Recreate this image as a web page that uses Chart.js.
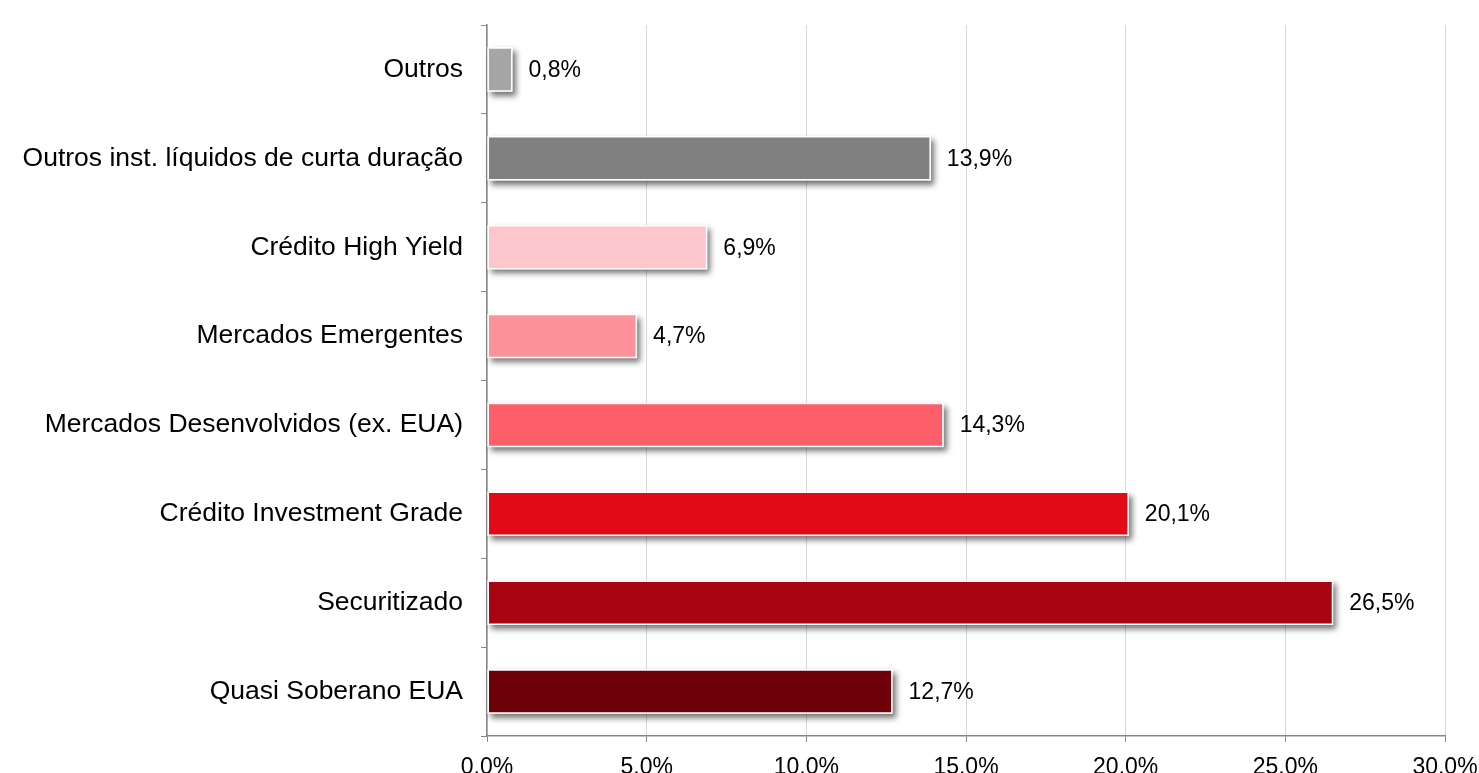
<!DOCTYPE html>
<html>
<head>
<meta charset="utf-8">
<script src="https://cdn.jsdelivr.net/npm/chart.js@4.4.1/dist/chart.umd.min.js"></script>
<style>
  html, body { margin: 0; padding: 0; background: #ffffff; }
  #wrap { width: 1479px; height: 773px; position: relative; }
</style>
</head>
<body>
<div id="wrap"><canvas id="c"></canvas></div>
<script>
const categories = [
  "Outros",
  "Outros inst. líquidos de curta duração",
  "Crédito High Yield",
  "Mercados Emergentes",
  "Mercados Desenvolvidos (ex. EUA)",
  "Crédito Investment Grade",
  "Securitizado",
  "Quasi Soberano EUA"
];
const values = [0.8, 13.9, 6.9, 4.7, 14.3, 20.1, 26.5, 12.7];
const barColors = ["#a6a6a6", "#808080", "#fdc6cc", "#fc939a", "#fc5f6a", "#e20a17", "#a80411", "#6d0009"];
const xTickValues = [0, 5, 10, 15, 20, 25, 30];

const FONT = "'Liberation Sans', Arial, sans-serif";

// Drop shadow drawn under each bar (Chart.js clips bars with borders, so draw it separately)
const shadowPlugin = {
  id: 'barShadow',
  beforeDatasetsDraw(chart) {
    const ctx = chart.ctx;
    const meta = chart.getDatasetMeta(0);
    ctx.save();
    ctx.shadowColor = 'rgba(0,0,0,0.55)';
    ctx.shadowBlur = 6;
    ctx.shadowOffsetX = 3;
    ctx.shadowOffsetY = 4;
    ctx.fillStyle = '#ffffff';
    meta.data.forEach((bar) => {
      const p = bar.getProps(['x', 'y', 'base', 'height'], true);
      const left = Math.min(p.base, p.x);
      const w = Math.abs(p.x - p.base);
      ctx.fillRect(left, p.y - p.height / 2, w, p.height);
    });
    ctx.restore();
  }
};

const valueLabels = {
  id: 'valueLabels',
  afterDatasetsDraw(chart) {
    const ctx = chart.ctx;
    const meta = chart.getDatasetMeta(0);
    ctx.save();
    ctx.font = "23px " + FONT;
    ctx.fillStyle = "#000000";
    ctx.textAlign = "left";
    ctx.textBaseline = "middle";
    meta.data.forEach((bar, i) => {
      const txt = values[i].toFixed(1).replace('.', ',') + '%';
      ctx.fillText(txt, bar.x + 16, bar.y + 1);
    });
    ctx.restore();
  }
};

new Chart(document.getElementById('c'), {
  type: 'bar',
  data: {
    labels: categories,
    datasets: [{
      data: values,
      backgroundColor: barColors,
      borderColor: '#ffffff',
      borderWidth: 1.5,
      borderSkipped: false,
      categoryPercentage: 1.0,
      barPercentage: 0.5
    }]
  },
  options: {
    indexAxis: 'y',
    responsive: true,
    maintainAspectRatio: false,
    animation: false,
    devicePixelRatio: 1,
    layout: { padding: { top: 25, right: 0, left: 0, bottom: 0 } },
    plugins: {
      legend: { display: false },
      tooltip: { enabled: false }
    },
    scales: {
      x: {
        type: 'linear',
        min: 0,
        max: 30,
        afterBuildTicks(axis) {
          axis.ticks = xTickValues.map(v => ({ value: v }));
        },
        afterFit(axis) {
          axis.height = 37;
          axis.paddingRight = 34;
          axis.paddingLeft = 0;
        },
        grid: {
          display: true,
          drawOnChartArea: true,
          color: '#d9d9d9',
          lineWidth: 1,
          tickLength: 6,
          tickColor: '#888888'
        },
        border: { display: true, color: '#888888', width: 1.5 },
        ticks: {
          color: '#000000',
          font: { family: FONT, size: 23 },
          padding: 12,
          maxRotation: 0,
          autoSkip: false,
          callback: (v) => Number(v).toFixed(1) + '%'
        }
      },
      y: {
        afterFit(axis) {
          axis.width = 487;
          axis.paddingTop = 0;
          axis.paddingBottom = 0;
        },
        grid: {
          display: true,
          drawOnChartArea: false,
          offset: true,
          tickLength: 6,
          tickColor: '#888888',
          color: '#888888'
        },
        border: { display: true, color: '#888888', width: 1.5 },
        ticks: {
          color: '#000000',
          font: { family: FONT, size: 26.5 },
          padding: 18,
          autoSkip: false
        }
      }
    }
  },
  plugins: [shadowPlugin, valueLabels]
});
</script>
</body>
</html>
